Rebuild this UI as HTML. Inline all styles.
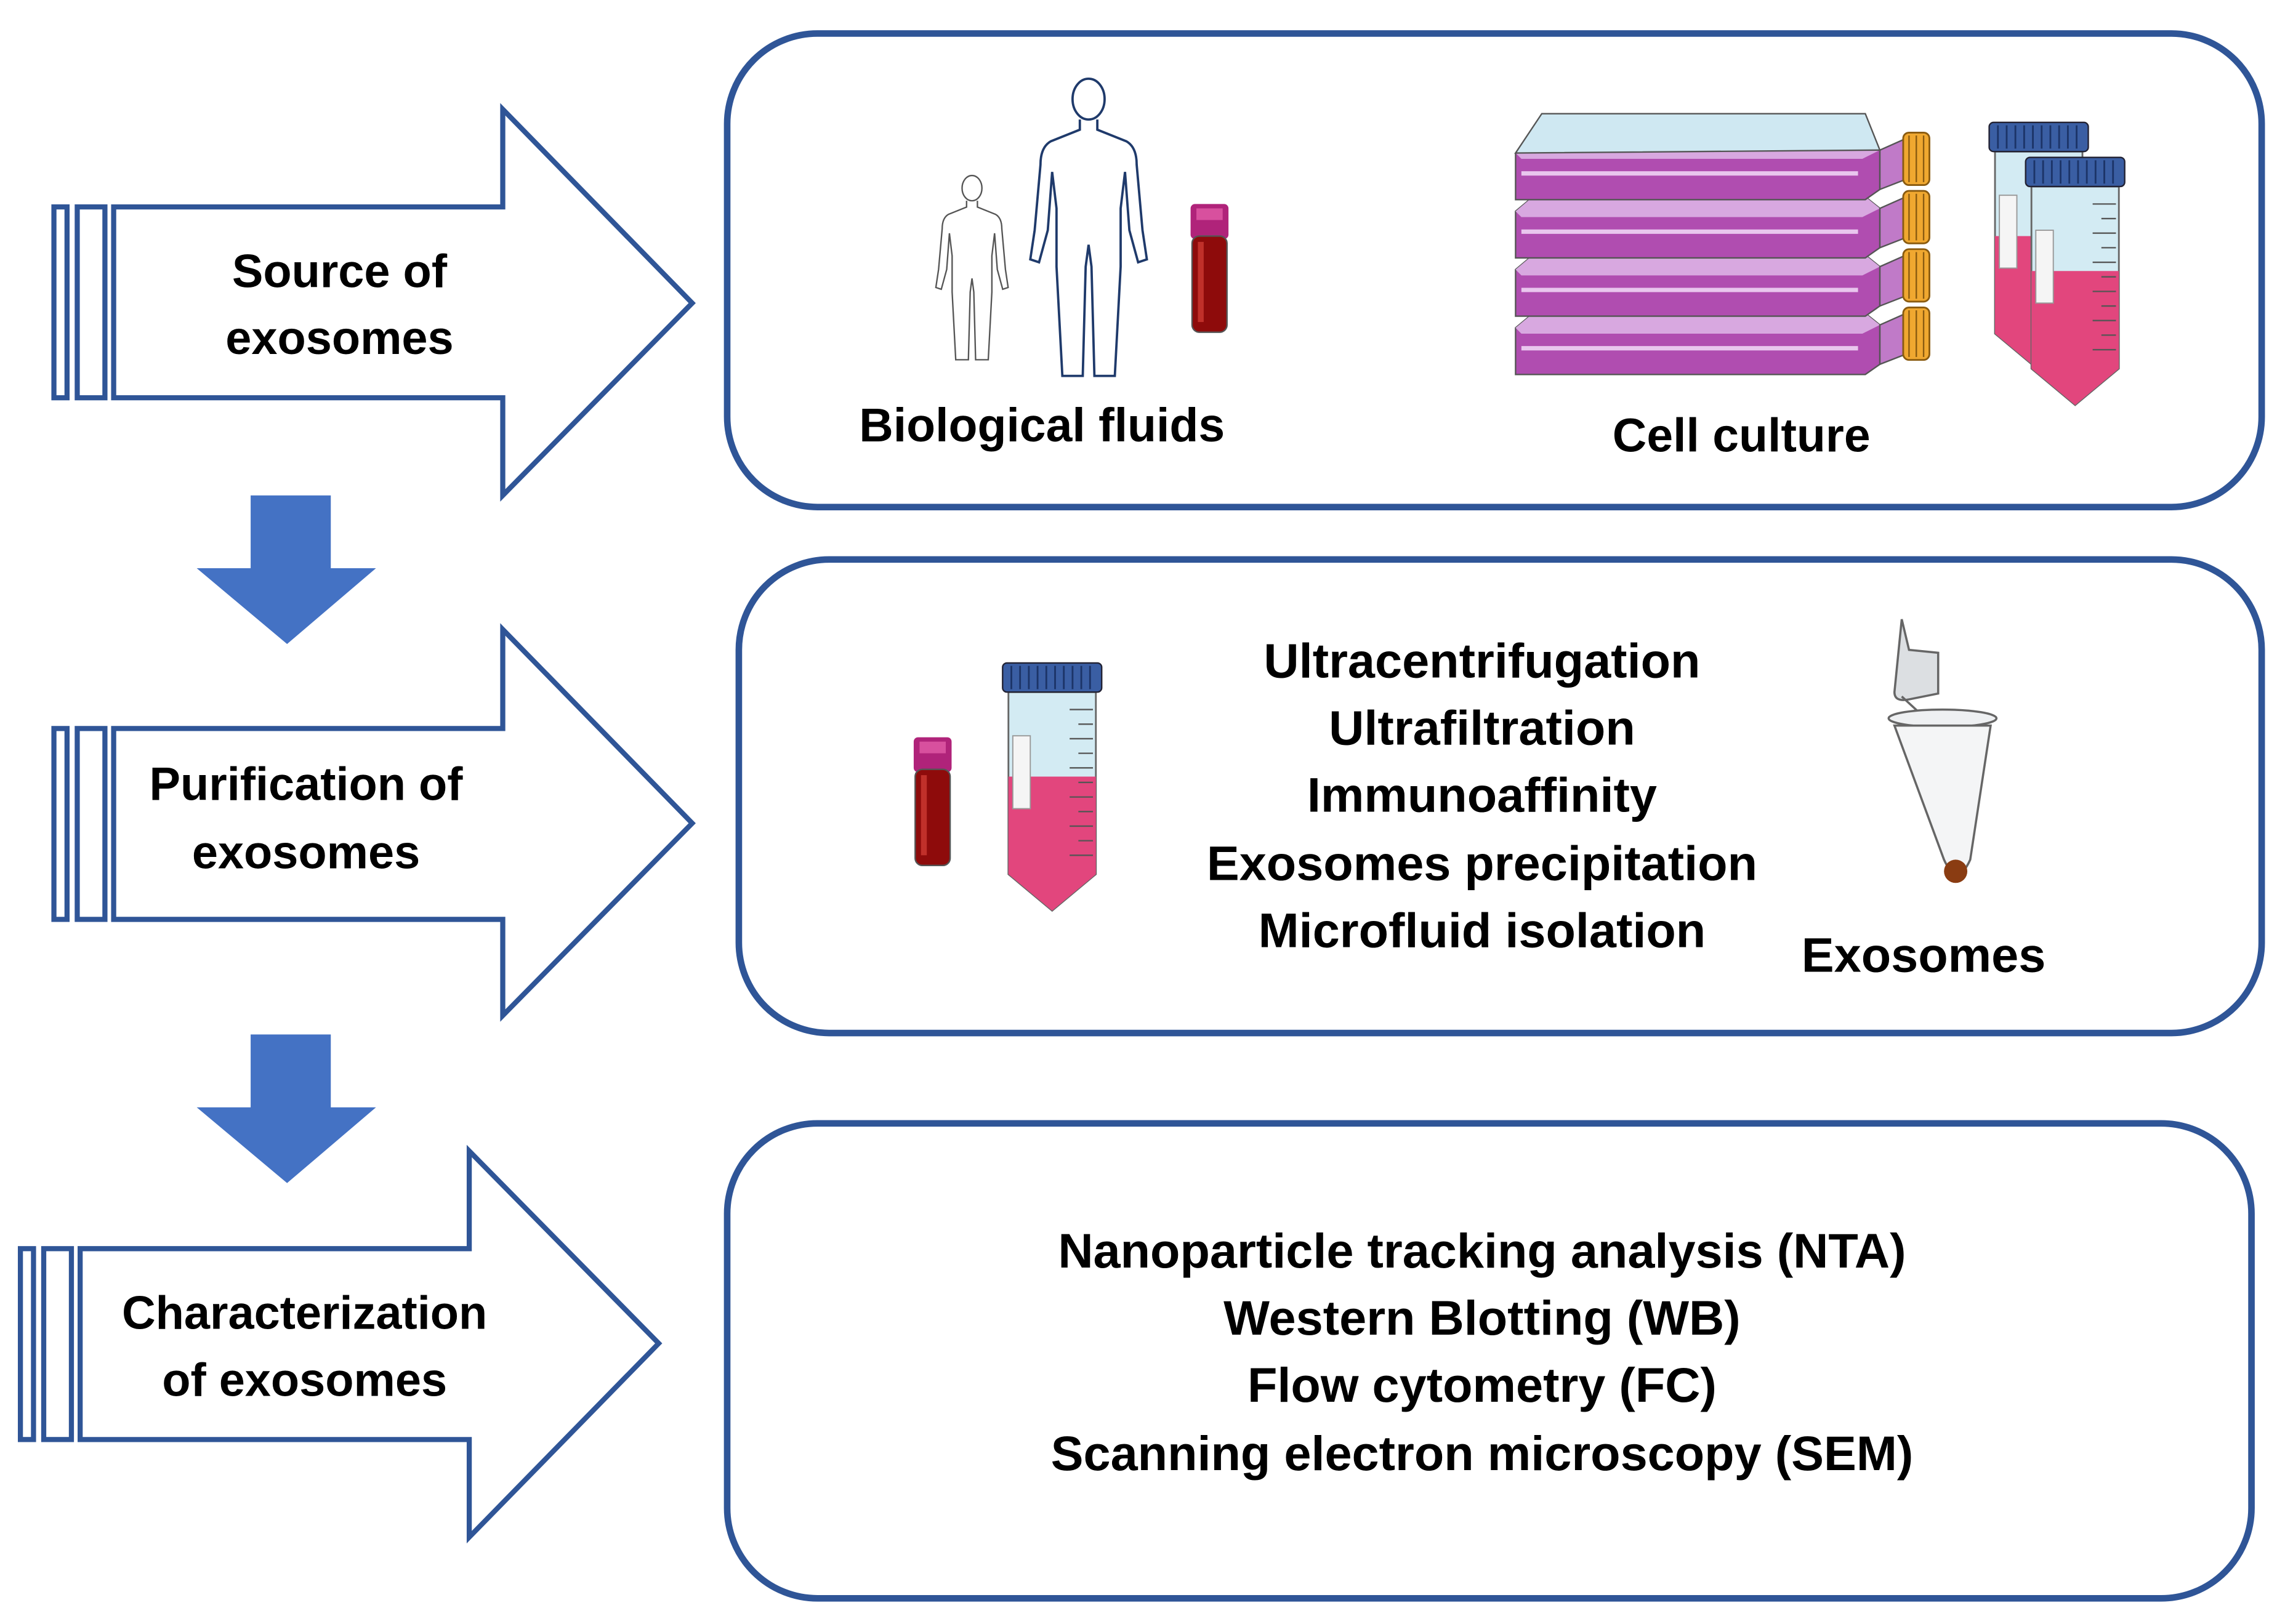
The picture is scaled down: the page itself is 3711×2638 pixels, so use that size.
<!DOCTYPE html>
<html><head><meta charset="utf-8"><style>
html,body{margin:0;padding:0;background:#fff;}
svg{display:block;}
text{font-family:"Liberation Sans",sans-serif;font-weight:bold;fill:#000;}
</style></head><body>
<svg width="3711" height="2638" viewBox="0 0 1568 1114.6" xmlns="http://www.w3.org/2000/svg">
<rect width="1568" height="1115" fill="#fff"/>
<g fill="none" stroke="#2f5597" stroke-width="3.5">
<rect x="37" y="142" width="9" height="131"/><rect x="53" y="142" width="19" height="131"/>
<path d="M78 142 H345 V75 L475 208 L345 340 V273 H78 Z"/>
<rect x="37" y="500" width="9" height="131"/><rect x="53" y="500" width="19" height="131"/>
<path d="M78 500 H345 V432 L475 565 L345 697 V631 H78 Z"/>
<rect x="14" y="857" width="9" height="131"/><rect x="30" y="857" width="19" height="131"/>
<path d="M55 857 H322 V790 L452 922 L322 1055 V988 H55 Z"/>
<rect x="499" y="23" width="1053" height="325" rx="62" stroke-width="4.5"/>
<rect x="507" y="384" width="1045" height="325" rx="62" stroke-width="4.5"/>
<rect x="499" y="771" width="1046" height="326" rx="62" stroke-width="4.5"/>
</g>
<path d="M172 340 H227 V390 H258 L197 442 L135 390 H172 Z" fill="#4472c4"/>
<path d="M172 710 H227 V760 H258 L197 812 L135 760 H172 Z" fill="#4472c4"/>

<g font-size="32" text-anchor="middle">
<text x="233" y="197">Source of</text>
<text x="233" y="243">exosomes</text>
<text x="210" y="549">Purification of</text>
<text x="210" y="596">exosomes</text>
<text x="209" y="912">Characterization</text>
<text x="209" y="958">of exosomes</text>
<text x="715" y="303" font-size="32.5">Biological fluids</text>
<text x="1195" y="310" font-size="32.5">Cell culture</text>
<g font-size="33.5">
<text x="1017" y="465">Ultracentrifugation</text>
<text x="1017" y="511">Ultrafiltration</text>
<text x="1017" y="557">Immunoaffinity</text>
<text x="1017" y="604">Exosomes precipitation</text>
<text x="1017" y="650">Microfluid isolation</text>
<text x="1320" y="667">Exosomes</text>
<text x="1017" y="870">Nanoparticle tracking analysis (NTA)</text>
<text x="1017" y="916">Western Blotting (WB)</text>
<text x="1017" y="962">Flow cytometry (FC)</text>
<text x="1017" y="1009">Scanning electron microscopy (SEM)</text>
</g>
</g>

<defs>
<g id="human" fill="none" stroke-width="1.6">
<ellipse cx="0" cy="-95" rx="11" ry="14"/>
<path d="M-6 -81 V-74 L-26 -66 Q-33 -62 -33 -50 L-37 -5 L-40 15 L-34 17 L-28 -5 L-25 -45 L-22 -20 L-22 20 L-18 95 L-4 95 L-2 20 L0 5 L2 20 L4 95 L18 95 L22 20 L22 -20 L25 -45 L28 -5 L34 17 L40 15 L37 -5 L33 -50 Q33 -62 26 -66 L6 -74 V-81"/>
</g>
<g id="btube">
<rect x="0" y="0" width="26" height="24" rx="3" fill="#b0237a"/>
<rect x="4" y="3" width="18" height="8" fill="#d8509e"/>
<rect x="1" y="22" width="24" height="66" rx="5" fill="#8e0b0b" stroke="#555" stroke-width="1"/>
<rect x="5" y="26" width="4" height="55" fill="#c0302a"/>
</g>
<g id="falcon">
<path d="M4 20 H64 V145 L34 170 L4 145 Z" fill="#d3ebf3" stroke="#666" stroke-width="1.2"/>
<path d="M4 78 H64 V145 L34 170 L4 145 Z" fill="#e2467d"/>
<rect x="0" y="0" width="68" height="20" rx="3" fill="#3a5ea3" stroke="#223" stroke-width="1"/>
<g stroke="#1c3468" stroke-width="1.2"><path d="M6 2V18M12 2V18M18 2V18M24 2V18M30 2V18M36 2V18M42 2V18M48 2V18M54 2V18M60 2V18"/></g>
<rect x="7" y="50" width="12" height="50" fill="#f5f5f5" stroke="#999" stroke-width="0.8"/>
<g stroke="#555" stroke-width="1"><path d="M46 32H62M52 42H62M46 52H62M52 62H62M46 72H62M52 82H62M46 92H62M52 102H62M46 112H62M52 122H62M46 132H62"/></g>
</g>
<g id="flask">
<path d="M0 10 L12 0 H240 L250 8 V35 L240 42 H0 Z" fill="#b04db0" stroke="#555" stroke-width="1"/>
<path d="M0 10 L12 0 H240 L250 8 L238 14 H4 Z" fill="#d8a8e0"/>
<path d="M4 24 H235" stroke="#e9c6ee" stroke-width="3"/>
<path d="M250 8 L268 0 V28 L250 35 Z" fill="#c07ac8" stroke="#555" stroke-width="1"/>
<rect x="266" y="-4" width="18" height="36" rx="4" fill="#f0a830" stroke="#8a5b10" stroke-width="1.2"/>
<g stroke="#8a5b10" stroke-width="1"><path d="M270 -2V30M275 -2V30M280 -2V30"/></g>
</g>
</defs>
<g stroke="#555" transform="translate(667 188) scale(0.62)"><use href="#human"/></g>
<g stroke="#1f3a6b" transform="translate(747 163) scale(1.0)"><use href="#human"/></g>
<use href="#btube" x="817" y="140"/>
<use href="#btube" x="627" y="506"/>
<use href="#flask" x="1040" y="215"/>
<use href="#flask" x="1040" y="175"/>
<use href="#flask" x="1040" y="135"/>
<use href="#flask" x="1040" y="95"/>
<path d="M1040 105 L1058 78 H1280 L1290 103 Z" fill="#cfe8f2" stroke="#555" stroke-width="1"/>
<use href="#falcon" x="1365" y="84"/>
<use href="#falcon" x="1390" y="108"/>
<use href="#falcon" x="688" y="455"/>
<g stroke="#666" stroke-width="1.5" fill="#eef0f2">
<path d="M1305 425 L1303 445 L1300 475 Q1300 482 1310 480 L1330 476 V448 L1310 446 Z" fill="#dcdfe2"/>
<path d="M1305 478 L1318 490"/>
<ellipse cx="1333" cy="493" rx="37" ry="6"/>
<path d="M1300 498 H1366 L1352 590 Q1343 610 1334 590 Z" fill="#f4f5f6"/>
</g>
<circle cx="1342" cy="598" r="8" fill="#8a3c12"/>
</svg>
</body></html>
